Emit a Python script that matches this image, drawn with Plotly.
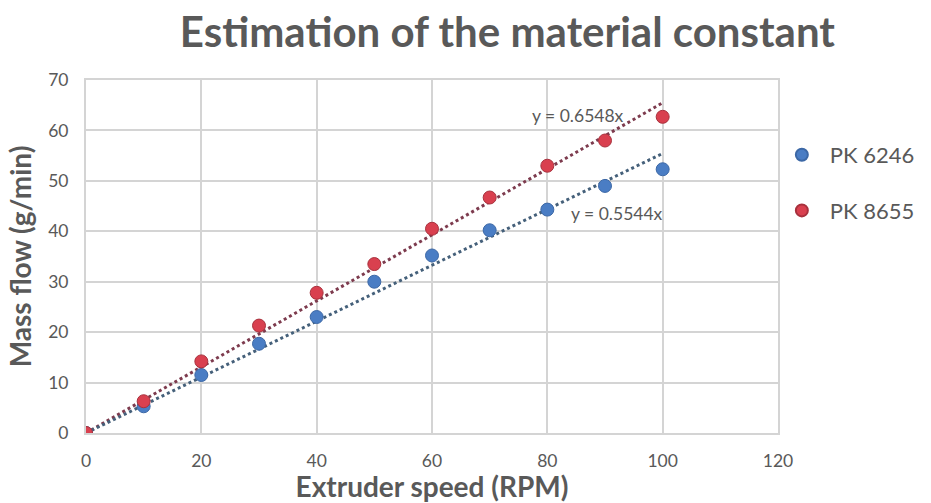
import plotly.graph_objects as go

speed = [0, 10, 20, 30, 40, 50, 60, 70, 80, 90, 100]
pk6246 = [0, 5.3, 11.5, 17.7, 23.0, 30.0, 35.2, 40.2, 44.3, 49.0, 52.3]
pk8655 = [0, 6.3, 14.2, 21.3, 27.8, 33.5, 40.5, 46.7, 53.0, 58.0, 62.7]
slope_6246 = 0.5544
slope_8655 = 0.6548
trend_x = [0, 100]

font_family = "Lato, 'Open Sans', sans-serif"
gray = "#595959"

fig = go.Figure()

# trendlines
fig.add_trace(go.Scatter(x=trend_x, y=[slope_8655 * v for v in trend_x], mode="lines",
                         line=dict(color="#7d3b4e", width=3, dash="dot"),
                         showlegend=False, hoverinfo="skip"))
fig.add_trace(go.Scatter(x=trend_x, y=[slope_6246 * v for v in trend_x], mode="lines",
                         line=dict(color="#45607a", width=3, dash="dot"),
                         showlegend=False, hoverinfo="skip"))

fig.add_trace(go.Scatter(x=speed, y=pk6246, mode="markers", name="PK 6246", legendgroup="a",
                         marker=dict(color="#4a7dc4", size=13, line=dict(color="#3c68a6", width=1))))
fig.add_trace(go.Scatter(x=speed, y=pk8655, mode="markers", name="PK 8655", legendgroup="b",
                         marker=dict(color="#d9404f", size=13, line=dict(color="#a8313d", width=1))))

fig.add_annotation(x=85.3, y=62.9, text="y = 0.6548x", showarrow=False,
                   font=dict(size=17.5, color=gray, family=font_family))
fig.add_annotation(x=92.1, y=43.6, text="y = 0.5544x", showarrow=False,
                   font=dict(size=17.5, color=gray, family=font_family))

fig.update_layout(
    width=931, height=503,
    margin=dict(l=86, r=153, t=80, b=70, autoexpand=False),
    paper_bgcolor="white", plot_bgcolor="white",
    font=dict(family=font_family, color=gray),
    title=dict(text="<b>Estimation of the material constant</b>", x=0.545, xanchor="center",
               y=0.935, yanchor="middle", font=dict(size=42, color=gray, family=font_family)),
    legend=dict(x=0.994, y=0.847, xanchor="left", yanchor="top", font=dict(size=22, color=gray),
                tracegroupgap=24, itemsizing="constant", itemwidth=46, bgcolor="rgba(0,0,0,0)"),
    showlegend=True,
)
fig.update_xaxes(range=[0, 120], dtick=20, showgrid=True, gridcolor="#d4d4d4", gridwidth=2,
                 zeroline=False, showline=True, linecolor="#d4d4d4", linewidth=2, mirror=True,
                 automargin=False,
                 tickfont=dict(size=17.5, color=gray), ticks="", ticklabelstandoff=11,
                 title=dict(text="<b>Extruder speed (RPM)</b>", font=dict(size=28, color=gray), standoff=2))
fig.update_yaxes(range=[0, 70], dtick=10, showgrid=True, gridcolor="#d4d4d4", gridwidth=2,
                 zeroline=False, showline=True, linecolor="#d4d4d4", linewidth=2, mirror=True,
                 automargin=False,
                 tickfont=dict(size=17.5, color=gray), ticks="", ticklabelstandoff=12,
                 title=dict(text="<b>Mass flow (g/min)</b>", font=dict(size=28, color=gray), standoff=8))

fig.write_html("out.html")
